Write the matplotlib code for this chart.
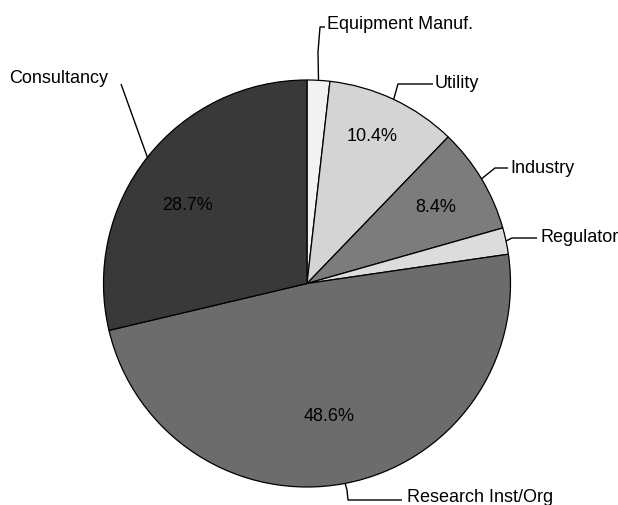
import numpy as np
import matplotlib
matplotlib.use("Agg")
import matplotlib.pyplot as plt

# ---- data ----
categories = ["Equipment Manuf.", "Utility", "Industry", "Regulator",
              "Research Inst/Org", "Consultancy"]
shares = [1.8, 10.4, 8.4, 2.1, 48.6, 28.7]
show_pct = [False, True, True, False, True, True]
colors = ["#f2f2f2", "#d4d4d4", "#7c7c7c", "#dcdcdc", "#6c6c6c", "#393939"]

# ---- layout (image pixel coords, y downward) ----
W, H = 618, 505
CX, CY, R = 307, 283.5, 203.5
# leader polyline after the wedge anchor, text start (x, baseline)
leaders = {
    "Equipment Manuf.": ([(318, 52), (320, 27), (325, 27)], (327, 29)),
    "Utility": ([(398, 84), (433, 84)], (435, 88)),
    "Industry": ([(495, 168), (508, 168)], (510, 173)),
    "Regulator": ([(512, 238), (537, 238)], (540, 242)),
    "Research Inst/Org": ([(347, 490), (348, 500), (402, 500)], (407, 502)),
    "Consultancy": ([(121, 84)], (9, 83)),
}
pct_pos = {
    "Utility": (372.5, 141),
    "Industry": (435.5, 212),
    "Research Inst/Org": (329, 421),
    "Consultancy": (187.5, 210),
}

def P(x, y):
    return x, H - y

plt.rcParams['font.family'] = ['Liberation Sans', 'DejaVu Sans']
fig = plt.figure(figsize=(W / 100, H / 100), dpi=100)
ax = fig.add_axes([0, 0, 1, 1])
ax.set_xlim(0, W)
ax.set_ylim(0, H)
ax.set_aspect('equal')
ax.axis('off')

wedges, _ = ax.pie(shares, colors=colors, startangle=90, counterclock=False,
                   radius=R, center=P(CX, CY),
                   wedgeprops=dict(edgecolor='black', linewidth=0.9))
ax.set_xlim(0, W)
ax.set_ylim(0, H)
ax.set_aspect('equal')
ax.axis('off')

fs = 13
for w, cat, v, sp in zip(wedges, categories, shares, show_pct):
    mid = np.deg2rad((w.theta1 + w.theta2) / 2)
    cx, cy = w.center
    ax_pt = (cx + R * np.cos(mid), cy + R * np.sin(mid))
    pts, tpos = leaders[cat]
    xs = [ax_pt[0]] + [P(*p)[0] for p in pts]
    ys = [ax_pt[1]] + [P(*p)[1] for p in pts]
    ax.plot(xs, ys, color='black', lw=1.0, solid_capstyle='butt')
    tx, ty = P(*tpos)
    ax.text(tx, ty, cat, ha='left', va='baseline', fontsize=fs, color='black')
    if sp:
        px, py = P(*pct_pos[cat])
        ax.text(px, py, f"{v:.1f}%", ha='center', va='baseline',
                fontsize=fs, color='black')

fig.savefig("out.png", dpi=100, facecolor='white')
